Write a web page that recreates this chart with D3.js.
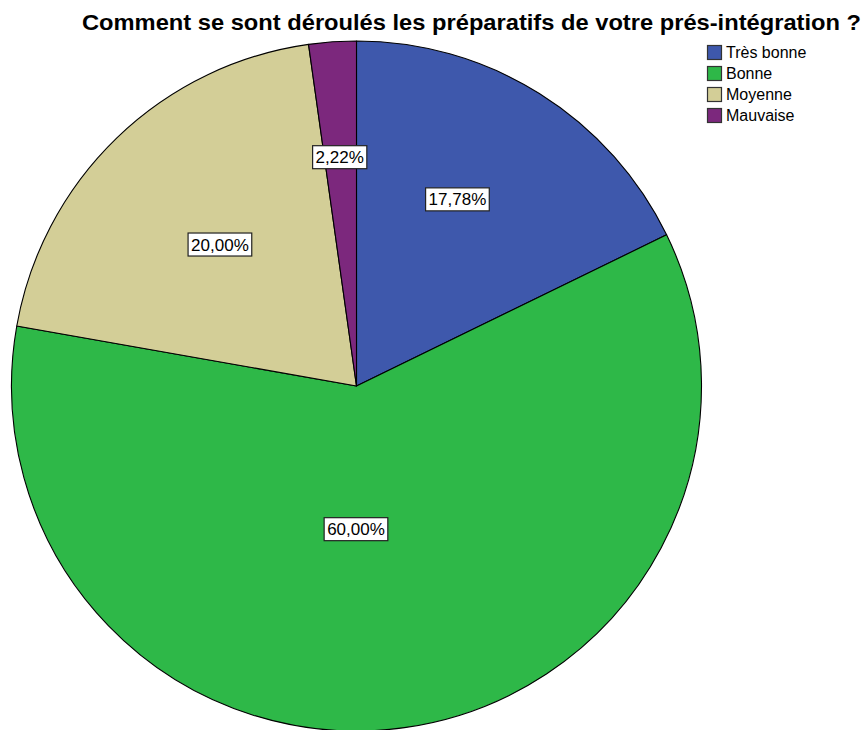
<!DOCTYPE html>
<html>
<head>
<meta charset="utf-8">
<script src="https://cdn.jsdelivr.net/npm/d3@7"></script>
<style>
  html, body { margin: 0; padding: 0; background: #fff; }
  svg { display: block; }
  text { font-family: "Liberation Sans", Arial, sans-serif; fill: #000; }
</style>
</head>
<body>
<svg id="chart" width="865" height="730"></svg>
<script>
// Survey answers and their shares (percent)
const categories = ["Très bonne", "Bonne", "Moyenne", "Mauvaise"];
const percents = [17.78, 60.00, 20.00, 2.22];
const colors = ["#3E58AC", "#2EB848", "#D3CE97", "#7C287D"];
const title = "Comment se sont déroulés les préparatifs de votre prés-intégration ?";

// Label placement: distance from centre (fraction of radius) and angular nudge (degrees)
const labelRadius = [0.615, 0.415, 0.57, 0.665];
const labelNudge = [-3.6, 8.2, 0, -0.2];

const svg = d3.select("#chart");
const cx = 356.5, cy = 386, r = 345;

svg.append("text")
  .attr("x", 82).attr("y", 30)
  .attr("textLength", 779)
  .attr("lengthAdjust", "spacingAndGlyphs")
  .style("font-size", "22px").style("font-weight", "bold")
  .text(title);

const data = categories.map((c, i) => ({ cat: c, value: percents[i], i }));
const pie = d3.pie().sort(null).value(d => d.value);
const arcs = pie(data);
const arc = d3.arc().innerRadius(0).outerRadius(r);

const g = svg.append("g").attr("transform", `translate(${cx},${cy})`);

g.selectAll("path.slice")
  .data(arcs)
  .join("path")
  .attr("class", "slice")
  .attr("d", arc)
  .attr("fill", d => colors[d.data.i])
  .attr("stroke", "#000")
  .attr("stroke-width", 1.1)
  .attr("stroke-linejoin", "round");

const fmt = v => d3.format(".2f")(v).replace(".", ",") + "%";

const labels = g.selectAll("g.lbl")
  .data(arcs)
  .join("g")
  .attr("class", "lbl")
  .attr("transform", d => {
    const a = (d.startAngle + d.endAngle) / 2 + labelNudge[d.data.i] * Math.PI / 180;
    const rr = labelRadius[d.data.i] * r;
    return `translate(${rr * Math.sin(a)},${-rr * Math.cos(a)})`;
  });

labels.append("text")
  .attr("text-anchor", "middle")
  .attr("dy", "0.36em")
  .style("font-size", "17px")
  .text(d => fmt(d.data.value));

labels.each(function() {
  const t = d3.select(this).select("text");
  const bb = t.node().getBBox();
  d3.select(this).insert("rect", "text")
    .attr("x", bb.x - 3).attr("y", -11.5)
    .attr("width", bb.width + 6).attr("height", 23)
    .attr("fill", "#fff")
    .attr("stroke", "#222")
    .attr("stroke-width", 1.2);
});

// Legend
const legend = svg.append("g").attr("transform", "translate(707,45)");
const rows = legend.selectAll("g")
  .data(categories)
  .join("g")
  .attr("transform", (d, i) => `translate(0,${i * 21})`);
rows.append("rect")
  .attr("x", 0.5).attr("y", 0.5)
  .attr("width", 14).attr("height", 14)
  .attr("fill", (d, i) => colors[i])
  .attr("stroke", "#333").attr("stroke-width", 1.2);
rows.append("text")
  .attr("x", 19).attr("y", 13)
  .style("font-size", "16px")
  .text(d => d);
</script>
</body>
</html>
